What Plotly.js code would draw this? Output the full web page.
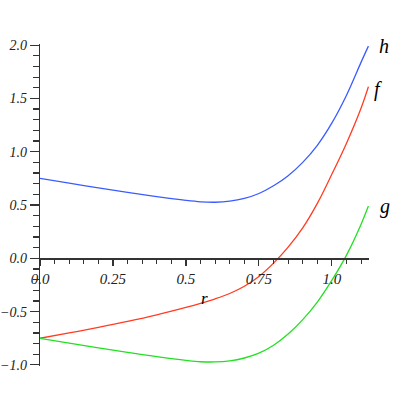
<!DOCTYPE html>
<html>
<head>
<meta charset="utf-8">
<script src="https://cdn.plot.ly/plotly-3.0.1.min.js"></script>
<style>html,body{margin:0;padding:0;background:#fff;}#chart{width:409px;height:409px;}</style>
</head>
<body>
<div id="chart"></div>
<script>
const rValues = [0, 0.1, 0.2, 0.3, 0.4, 0.5, 0.55, 0.6, 0.65, 0.7, 0.75, 0.8, 0.85, 0.9, 0.95, 1.0, 1.05, 1.1, 1.125];
const hValues = [0.75, 0.705, 0.66, 0.618, 0.578, 0.543, 0.53, 0.526, 0.536, 0.562, 0.608, 0.68, 0.775, 0.9, 1.06, 1.27, 1.53, 1.84, 1.99];
const fValues = [-0.75, -0.70, -0.648, -0.592, -0.53, -0.46, -0.422, -0.38, -0.33, -0.262, -0.17, -0.045, 0.105, 0.285, 0.515, 0.79, 1.08, 1.41, 1.61];
const gValues = [-0.75, -0.795, -0.84, -0.882, -0.922, -0.957, -0.97, -0.972, -0.962, -0.935, -0.89, -0.815, -0.71, -0.575, -0.41, -0.205, 0.03, 0.32, 0.49];
const seriesNames = ['h', 'f', 'g'];
const xTickVals = [0, 0.25, 0.5, 0.75, 1.0];
const xTickText = ['0.0', '0.25', '0.5', '0.75', '1.0'];
const yTickVals = [-1.0, -0.5, 0, 0.5, 1.0, 1.5, 2.0];
const yTickText = ['\u22121.0', '\u22120.5', '0.0', '0.5', '1.0', '1.5', '2.0'];
const xAxisLabel = 'r';

const colors = ['#3a5cff', '#ff3c22', '#22e022'];
const labelShiftX = [16, 10, 17];
const labelShiftY = [0, -3, 0];
const series = [hValues, fValues, gValues];
const serif = 'Liberation Serif';

const yRange = [-1.01, 2.01];
const traces = series.map((ys, i) => ({
  x: rValues, y: ys, type: 'scatter', mode: 'lines', name: seriesNames[i],
  line: {color: colors[i], width: 1.3, shape: 'spline', smoothing: 1},
  hoverinfo: 'skip'
}));

const annotations = series.map((ys, i) => ({
  x: rValues[rValues.length - 1], y: ys[ys.length - 1], xref: 'x', yref: 'y',
  text: '<i>' + seriesNames[i] + '</i>',
  showarrow: false, xshift: labelShiftX[i], yshift: labelShiftY[i],
  xanchor: 'center', yanchor: 'middle',
  font: {family: serif, size: 20, color: '#000'}
}));
annotations.push({
  x: (rValues[0] + rValues[rValues.length - 1]) / 2, y: 0, xref: 'x', yref: 'y',
  text: '<i>' + xAxisLabel + '</i>', showarrow: false, yshift: -40,
  xanchor: 'center', yanchor: 'middle',
  font: {family: serif, size: 17, color: '#000'}
});

const zeroFrac = (0 - yRange[0]) / (yRange[1] - yRange[0]);

const layout = {
  width: 409, height: 409,
  margin: {l: 40, r: 40, t: 44, b: 43},
  paper_bgcolor: '#fff', plot_bgcolor: '#fff',
  font: {family: serif},
  showlegend: false,
  xaxis: {
    range: [0, 1.127], anchor: 'free', position: zeroFrac,
    showgrid: false, zeroline: false, showline: true, linecolor: '#333', linewidth: 1.2,
    ticks: 'outside', ticklen: 6, tickwidth: 1.1, tickcolor: '#333',
    tickmode: 'array', tickvals: xTickVals, ticktext: xTickText,
    tickfont: {family: serif, size: 15, color: '#222', style: 'italic'},
    minor: {dtick: 0.05, tick0: 0, ticks: 'outside', ticklen: 4, tickwidth: 1.1, tickcolor: '#333', showgrid: false}
  },
  yaxis: {
    range: yRange,
    showgrid: false, zeroline: false, showline: true, linecolor: '#333', linewidth: 1.2,
    ticks: 'outside', ticklen: 9, tickwidth: 1.1, tickcolor: '#333',
    tickmode: 'array', tickvals: yTickVals, ticktext: yTickText,
    tickfont: {family: serif, size: 14, color: '#222', style: 'italic'},
    minor: {dtick: 0.1, tick0: 0, ticks: 'outside', ticklen: 6, tickwidth: 1.1, tickcolor: '#333', showgrid: false}
  },
  annotations: annotations
};

Plotly.newPlot('chart', traces, layout, {staticPlot: true, displayModeBar: false});
</script>
</body>
</html>
